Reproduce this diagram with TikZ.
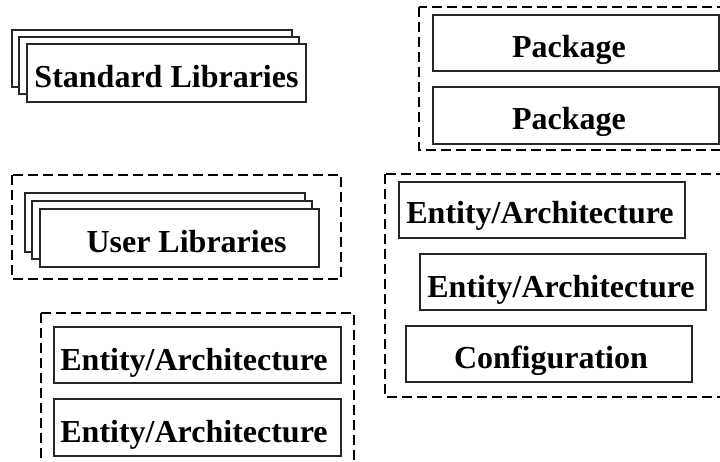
\documentclass[tikz,border=0pt]{standalone}
\usepackage{fontspec}
\setmainfont{Liberation Serif}
\usetikzlibrary{fit}
\begin{document}
\begin{tikzpicture}[x=1pt,y=-1pt,
  box/.style={rectangle, draw=black!85, line width=1.2pt, fill=white, inner sep=0pt},
  frame/.style={draw=black, line width=2pt, dash pattern=on 10pt off 5pt},
  lbl/.style={anchor=base, inner sep=0pt, font=\fontsize{32}{38}\selectfont\bfseries}]
\useasboundingbox (0,0) rectangle (720,461);
\clip (0,0) rectangle (720,461);

% dashed groupings
\draw[frame] (419,7) rectangle (730,150);
\draw[frame] (12,175) rectangle (341,279);
\draw[frame] (385,174) rectangle (730,397);
\draw[frame] (41,313) rectangle (354,470);

% standard libraries (stacked)
\node[box, fit={(12,30) (292,87)}] (std1) {};
\node[box, fit={(19,37) (299,94)}] (std2) {};
\node[box, fit={(27,44) (306,102)}] (std3) {};
\node[lbl] (stdT) at (166.5,87) {Standard Libraries};

% packages
\node[box, fit={(433,15) (719,71)}] (pkg1) {};
\node[lbl] (pkg1T) at (569,57) {Package};
\node[box, fit={(433,87) (719,144)}] (pkg2) {};
\node[lbl] (pkg2T) at (569,129) {Package};

% user libraries (stacked)
\node[box, fit={(25,193) (305,252)}] (usr1) {};
\node[box, fit={(32,201) (312,259)}] (usr2) {};
\node[box, fit={(40,209) (319,267)}] (usr3) {};
\node[lbl] (usrT) at (186.5,252) {User Libraries};

% design units, right group
\node[box, fit={(399,182) (685,238)}] (ear1) {};
\node[lbl] (ear1T) at (540,223.5) {Entity/Architecture};
\node[box, fit={(420,254) (706,310)}] (ear2) {};
\node[lbl] (ear2T) at (561,297) {Entity/Architecture};
\node[box, fit={(406,326) (692,382)}] (cfg) {};
\node[lbl] (cfgT) at (551,368) {Configuration};

% design units, left group
\node[box, fit={(54,327) (341,383)}] (eal1) {};
\node[lbl] (eal1T) at (194,370) {Entity/Architecture};
\node[box, fit={(54,399) (341,456)}] (eal2) {};
\node[lbl] (eal2T) at (194,442) {Entity/Architecture};
\end{tikzpicture}
\end{document}
